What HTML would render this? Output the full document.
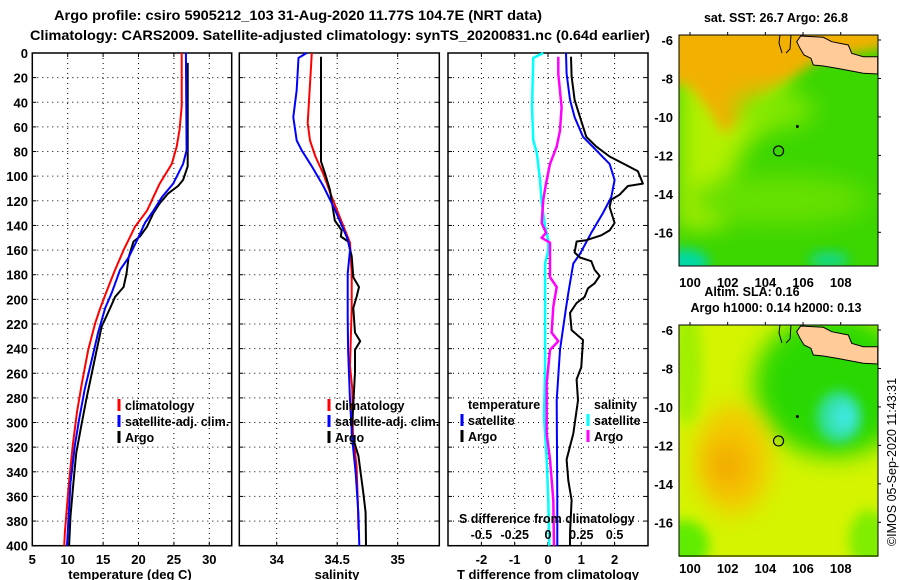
<!DOCTYPE html>
<html><head><meta charset="utf-8"><style>
html,body{margin:0;padding:0;background:#fff}
svg{display:block;font-family:"Liberation Sans",Arial,sans-serif;font-weight:bold}
</style></head><body>
<svg id="fig" width="900" height="580" viewBox="0 0 900 580" xmlns="http://www.w3.org/2000/svg">
<defs>
<filter id="b6" x="-50%" y="-50%" width="200%" height="200%"><feGaussianBlur stdDeviation="6"/></filter>
<filter id="b12" x="-50%" y="-50%" width="200%" height="200%"><feGaussianBlur stdDeviation="12"/></filter>
<clipPath id="c1"><rect x="679" y="35" width="199" height="231"/></clipPath>
<clipPath id="c2"><rect x="679" y="325" width="199" height="232"/></clipPath>
</defs>
<text x="298" y="20" text-anchor="middle" font-size="14" textLength="488" lengthAdjust="spacingAndGlyphs">Argo profile: csiro 5905212_103 31-Aug-2020 11.77S 104.7E (NRT data)</text>
<text x="340" y="40" text-anchor="middle" font-size="14" textLength="620" lengthAdjust="spacingAndGlyphs">Climatology: CARS2009. Satellite-adjusted climatology: synTS_20200831.nc (0.64d earlier)</text>
<g id="plots"></g>
<g id="maps"></g>
</svg>
<script>
// ---- data: temperature panel ----
const tClimDepth=[0,43,62,76,90,106,128,141,160,176,195,207,219,241,268,292,319,354,389,400];
const tClimVal=[26.1,26.1,25.8,25.4,24.7,23.0,21.2,19.5,17.9,16.7,15.4,14.6,13.9,12.9,12.0,11.3,10.7,10.1,9.6,9.5];
const tSatDepth=[0,79,90,106,117,128,138,152,166,176,195,207,227,249,273,298,319,349,400];
const tSatVal=[26.7,26.8,26.3,24.9,23.3,22.1,20.9,19.8,18.6,17.4,16.2,15.3,14.3,13.4,12.4,11.6,11.0,10.4,9.9];
const tArgoDepth=[8,92,103,108,114,122,130,141,149,153,166,179,190,198,207,222,241,260,282,303,325,349,376,400];
const tArgoVal=[26.95,26.95,26.3,25.6,24.2,23.0,22.1,21.2,20.2,19.3,18.6,18.3,17.9,16.7,16.0,14.8,14.1,13.4,12.6,11.9,11.2,10.8,10.4,10.2];
// ---- data: salinity panel ----
const sClimDepth=[0,17,57,71,84,98,117,144,154,179,207,254,273,308,336,363,387];
const sClimVal=[34.29,34.28,34.256,34.275,34.32,34.385,34.455,34.565,34.606,34.62,34.62,34.606,34.625,34.63,34.66,34.67,34.675];
const sSatDepth=[0,4,30,52,71,79,92,108,127,152,160,179,214,241,282,314,341,374,400];
const sSatVal=[34.248,34.18,34.165,34.137,34.165,34.207,34.29,34.385,34.48,34.59,34.606,34.587,34.587,34.59,34.606,34.625,34.653,34.675,34.683];
const sArgoDepth=[3,88,98,111,136,144,149,153,165,182,190,198,207,227,234,241,259,309,327,357,373,400];
const sArgoVal=[34.366,34.366,34.4,34.44,34.48,34.537,34.53,34.59,34.62,34.633,34.68,34.66,34.633,34.647,34.69,34.647,34.647,34.62,34.675,34.716,34.735,34.738];
// ---- data: difference panel ----
const dTSatDepth=[0,17,38,52,68,79,90,103,117,130,146,163,171,179,195,207,241,282,363,400];
const dTSatVal=[0.54,0.56,0.66,0.80,1.05,1.45,1.85,2.0,1.9,1.65,1.3,0.96,0.76,0.71,0.61,0.54,0.36,0.26,0.28,0.28];
const dTArgoDepth=[3,19,38,52,68,76,84,91,96,106,108,115,119,125,138,144,148,152,153,162,166,169,176,181,187,191,198,203,211,225,233,255,265,282,309,330,347,363,390,400];
const dTArgoVal=[0.69,0.71,0.80,0.96,1.15,1.45,1.85,2.35,2.70,2.85,2.40,2.15,1.90,1.85,2.0,1.85,1.60,1.15,0.86,0.80,0.96,1.30,1.40,1.55,1.40,1.20,1.10,0.86,0.66,0.71,1.05,1.0,0.86,0.90,0.76,0.56,0.61,0.71,0.66,0.66];
const dSSatDepth=[0,4,44,71,81,103,122,141,152,160,171,206,255,295,330,363,400];
const dSSatVal=[-0.035,-0.11,-0.12,-0.11,-0.084,-0.06,-0.047,-0.022,0.002,0.002,-0.022,-0.022,-0.022,-0.03,-0.01,0.002,0.01];
const dSArgoDepth=[3,17,44,63,76,90,106,119,138,146,150,154,182,190,206,227,234,241,268,309,330,363,400];
const dSArgoVal=[0.077,0.077,0.102,0.09,0.065,0.015,-0.015,-0.035,-0.047,-0.015,-0.047,0.015,0.015,0.065,0.04,0.027,0.077,0.015,-0.01,-0.01,0.015,0.04,0.045];
// ---- tick labels ----
const depthTicks=[0,20,40,60,80,100,120,140,160,180,200,220,240,260,280,300,320,340,360,380,400];
const tTicks=[5,10,15,20,25,30];
const sTicks=[34,34.5,35];
const dTTicks=[-2,-1,0,1,2];
const dSTicks=[-0.5,-0.25,0,0.25,0.5];
const lonTicks=[100,102,104,106,108];
const latTicks=[-6,-8,-10,-12,-14,-16];
const argoLon=104.7, argoLat=-11.77;

const NS="http://www.w3.org/2000/svg";
function mk(tag,attrs,parent,txt){const e=document.createElementNS(NS,tag);for(const k in attrs)e.setAttribute(k,attrs[k]);if(txt!==undefined)e.textContent=txt;parent.appendChild(e);return e;}
const Y0=53,Y1=545.7;
function yD(d){return Y0+d*(Y1-Y0)/400;}
function x1(t){return 32.3+(t-5)*7.08;}
function x2(s){return 276.7+(s-34)*121;}
function x3(t){return 548+t*33.3;}
function x3s(s){return 548+s*133.2;}
const plots=document.getElementById('plots');

function panel(name,L,R,vx,ticks,fmt,showY){
  const g=mk('g',{},plots);
  
  
  depthTicks.forEach(d=>{
    if(d>0&&d<400){const gl=mk('line',{x1:L,x2:R,y1:yD(d),y2:yD(d),stroke:'#000','stroke-width':1,'stroke-dasharray':'1,4'},g);
    
    }
    mk('line',{x1:L,x2:L+4,y1:yD(d),y2:yD(d),stroke:'#000'},g);
    mk('line',{x1:R-4,x2:R,y1:yD(d),y2:yD(d),stroke:'#000'},g);
    if(showY){const t=mk('text',{x:28,y:yD(d)+5,'text-anchor':'end','font-size':13},g,String(d));
    
    }
  });
  ticks.forEach(v=>{
    const x=vx(v);
    if(x>L+2&&x<R-2){const gl=mk('line',{x1:x,x2:x,y1:Y0,y2:Y1,stroke:'#000','stroke-width':1,'stroke-dasharray':'1,4'},g);
    
    }
    mk('line',{x1:x,x2:x,y1:Y1-4,y2:Y1,stroke:'#000'},g);
    mk('line',{x1:x,x2:x,y1:Y0,y2:Y0+4,stroke:'#000'},g);
    const t=mk('text',{x:x,y:564,'text-anchor':'middle','font-size':13},g,fmt(v));
    
    
  });
  const fr=mk('rect',{x:L,y:Y0,width:R-L,height:Y1-Y0,fill:'none',stroke:'#000','stroke-width':1.5},g);
  
  
  return g;
}
function series(g,name,depths,vals,vx,color,w){
  const pts=depths.map((d,i)=>vx(vals[i]).toFixed(1)+','+yD(d).toFixed(1)).join(' ');
  const p=mk('polyline',{points:pts,fill:'none',stroke:color,'stroke-width':w,'stroke-linejoin':'round'},g);
  
  
}
function legendEntry(g,x,y,color,label,name){
  mk('line',{x1:x,x2:x,y1:y-11,y2:y+1,stroke:color,'stroke-width':3},g);
  const t=mk('text',{x:x+6,y:y,'font-size':12.5},g,label);
  
  
}
function axisTitle(x,label,name){
  const t=mk('text',{x:x,y:579,'text-anchor':'middle','font-size':13},plots,label);
  
  
}

// Panel 1
const g1=panel('temperature',32.3,231.7,x1,tTicks,v=>String(v),true);
series(g1,'temperature-climatology-line',tClimDepth,tClimVal,x1,'#f00',2);
series(g1,'temperature-argo-line',tArgoDepth,tArgoVal,x1,'#000',2);
series(g1,'temperature-satellite-line',tSatDepth,tSatVal,x1,'#00f',2);
legendEntry(g1,119,410,'#f00','climatology','legend-climatology');
legendEntry(g1,119,426,'#00f','satellite-adj. clim.','legend-satellite');
legendEntry(g1,119,442,'#000','Argo','legend-argo');
axisTitle(130,'temperature (deg C)','temperature-axis-title');

// Panel 2
const g2=panel('salinity',239.3,439.3,x2,sTicks,v=>String(v),false);
series(g2,'salinity-climatology-line',sClimDepth,sClimVal,x2,'#f00',2);
series(g2,'salinity-argo-line',sArgoDepth,sArgoVal,x2,'#000',2);
series(g2,'salinity-satellite-line',sSatDepth,sSatVal,x2,'#00f',2);
legendEntry(g2,329,410,'#f00','climatology','legend-climatology');
legendEntry(g2,329,426,'#00f','satellite-adj. clim.','legend-satellite');
legendEntry(g2,329,442,'#000','Argo','legend-argo');
axisTitle(337,'salinity','salinity-axis-title');

// Panel 3
const g3=panel('difference',448,648,x3,dTTicks,v=>String(v),false);
series(g3,'salinity-diff-satellite-line',dSSatDepth,dSSatVal,x3s,'#0ff',2.5);
series(g3,'salinity-diff-argo-line',dSArgoDepth,dSArgoVal,x3s,'#f0f',2.5);
series(g3,'temp-diff-satellite-line',dTSatDepth,dTSatVal,x3,'#00f',2);
series(g3,'temp-diff-argo-line',dTArgoDepth,dTArgoVal,x3,'#000',2);
{const t=mk('text',{x:468,y:409,'font-size':12.5},g3,'temperature');}
{const t=mk('text',{x:594,y:409,'font-size':12.5},g3,'salinity');}
legendEntry(g3,462,425,'#00f','satellite','legend-temp-satellite');
legendEntry(g3,462,441,'#000','Argo','legend-temp-argo');
legendEntry(g3,588,425,'#0ff','satellite','legend-sal-satellite');
legendEntry(g3,588,441,'#f0f','Argo','legend-sal-argo');
{const t=mk('text',{x:459,y:523,'font-size':12.5},g3,'S difference from climatology');}
dSTicks.forEach(v=>{const t=mk('text',{x:x3s(v),y:539,'text-anchor':'middle','font-size':12.5},g3,String(v));

});
axisTitle(548,'T difference from climatology','t-diff-axis-title');

// ---- Maps ----
const maps=document.getElementById('maps');
function lonX(l){return 690+(l-100)*18.84;}
function latY(l,top){return top+5+(-6-l)*19.23;}
const landPts=[[452,108],[520,112],[545,125],[595,135],[605,160],[640,170],[683,170],[683,222],[640,220],[600,212],[560,205],[520,198],[490,195],[483,175],[462,165],[450,145],[440,125]];
function drawMap(name,top,clip,layers,titleLines,lonY){
  const g=mk('g',{},maps);
  
  
  const c=mk('g',{'clip-path':'url(#'+clip+')'},g);
  layers(c,679,top);
  const lp=mk('polygon',{points:landPts.map(p=>(650+p[0]/3).toFixed(1)+','+(top-35+p[1]/3).toFixed(1)).join(' '),fill:'#ffcc99',stroke:'#000','stroke-width':1},c);
  
  
  mk('polyline',{points:[[780,top],[779,top+8],[782,top+18]].map(p=>p.join(',')).join(' '),fill:'none',stroke:'#000'},c);
  mk('polyline',{points:[[791,top],[790,top+14],[786,top+18]].map(p=>p.join(',')).join(' '),fill:'none',stroke:'#000'},c);
  mk('circle',{cx:lonX(105.7),cy:latY(-10.5,top),r:1.5,fill:'#000'},c);
  const ac=mk('circle',{cx:lonX(argoLon),cy:latY(argoLat,top),r:5,fill:'none',stroke:'#000','stroke-width':1.2},g);
  
  
  mk('rect',{x:679,y:top,width:199,height:231,fill:'none',stroke:'#000','stroke-width':1},g);
  lonTicks.forEach(l=>{mk('line',{x1:lonX(l),x2:lonX(l),y1:top-3,y2:top,stroke:'#000'},g);
    const t=mk('text',{x:lonX(l),y:lonY,'text-anchor':'middle','font-size':13},g,String(l));
    
    });
  latTicks.forEach(l=>{mk('line',{x1:878,x2:881,y1:latY(l,top),y2:latY(l,top),stroke:'#000'},g);
    const t=mk('text',{x:673,y:latY(l,top)+5,'text-anchor':'end','font-size':13},g,String(l));
    
    });
  titleLines.forEach(tl=>{const t=mk('text',{x:tl[0],y:tl[1],'text-anchor':'middle','font-size':12.5},g,tl[2]);
    
    });
}
drawMap('sst-map',35,'c1',function(c,x,y){
  mk('rect',{x:x,y:y,width:199,height:232,fill:'#3cd600'},c);
  mk('polygon',{points:[[x,y],[x+120,y],[x+100,y+70],[x+60,y+120],[x+45,y+190],[x,y+195]].map(p=>p.join(',')).join(' '),fill:'#b4f000',filter:'url(#b12)'},c);
  mk('polygon',{points:[[x-10,y-10],[x+210,y-10],[x+210,y+12],[x+140,y+25],[x+100,y+50],[x+70,y+75],[x+45,y+100],[x+30,y+75],[x+10,y+50],[x-10,y+48]].map(p=>p.join(',')).join(' '),fill:'#f2b000',filter:'url(#b6)'},c);
  mk('ellipse',{cx:x+100,cy:y+165,rx:90,ry:25,fill:'#66e000',filter:'url(#b12)'},c);
  mk('ellipse',{cx:x+95,cy:y+75,rx:40,ry:18,fill:'#80e800',filter:'url(#b12)'},c);
  mk('ellipse',{cx:x+5,cy:y+228,rx:25,ry:14,fill:'#00d8a8',filter:'url(#b6)'},c);
  mk('ellipse',{cx:x+150,cy:y+225,rx:20,ry:8,fill:'#10d890',filter:'url(#b6)'},c);
},[[776,22,'sat. SST: 26.7 Argo: 26.8']],287);
drawMap('sla-map',325,'c2',function(c,x,y){
  mk('rect',{x:x,y:y,width:199,height:232,fill:'#d4f400'},c);
  mk('ellipse',{cx:x+155,cy:y+60,rx:80,ry:72,fill:'#2cd800',filter:'url(#b12)'},c);
  mk('ellipse',{cx:x+160,cy:y+92,rx:22,ry:26,fill:'#30e0a0',filter:'url(#b6)'},c);
  mk('ellipse',{cx:x+165,cy:y+92,rx:11,ry:14,fill:'#40e8e0',filter:'url(#b6)'},c);
  mk('ellipse',{cx:x+54,cy:y+135,rx:38,ry:55,fill:'#f4c800',filter:'url(#b12)'},c);
  mk('ellipse',{cx:x+48,cy:y+140,rx:18,ry:22,fill:'#f2a800',filter:'url(#b12)'},c);
  mk('ellipse',{cx:x+5,cy:y+220,rx:25,ry:25,fill:'#60ec00',filter:'url(#b6)'},c);
  mk('ellipse',{cx:x+190,cy:y+215,rx:20,ry:30,fill:'#80ee00',filter:'url(#b6)'},c);
  mk('ellipse',{cx:x+8,cy:y+40,rx:15,ry:60,fill:'#a0f000',filter:'url(#b6)'},c);
},[[752,296,'Altim. SLA: 0.16'],[776,312,'Argo h1000: 0.14 h2000: 0.13']],573);
{const t=mk('text',{x:0,y:0,'text-anchor':'middle','font-size':12.5,'font-weight':'normal',transform:'translate(896,462) rotate(-90)'},maps,'©IMOS 05-Sep-2020 11:43:31');

}
</script>
</body></html>
